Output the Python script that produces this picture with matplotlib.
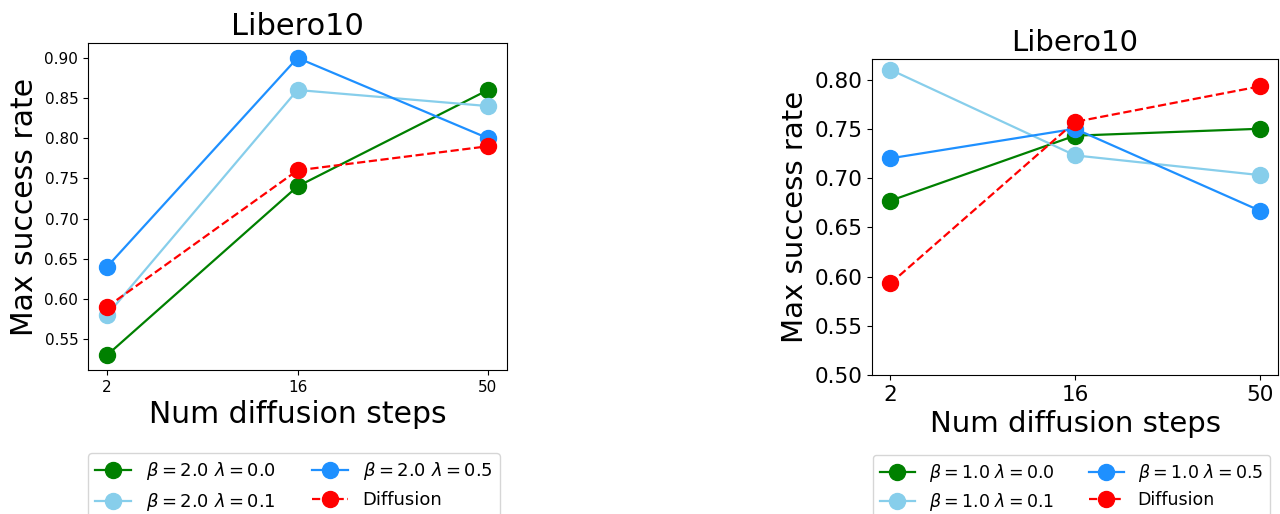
import matplotlib
matplotlib.use("Agg")
import matplotlib.pyplot as plt

steps = ["2", "16", "50"]

# left panel: beta = 2.0
left_b2_l00 = [0.53, 0.74, 0.86]
left_b2_l01 = [0.58, 0.86, 0.84]
left_b2_l05 = [0.64, 0.90, 0.80]
left_diffusion = [0.59, 0.76, 0.79]

# right panel: beta = 1.0
right_b1_l00 = [0.677, 0.743, 0.750]
right_b1_l01 = [0.810, 0.723, 0.703]
right_b1_l05 = [0.720, 0.750, 0.667]
right_diffusion = [0.593, 0.757, 0.793]

def draw_panel(ax, beta, series, tick_fs, label_fs, title_fs):
    x = range(len(steps))
    colors = ["green", "skyblue", "dodgerblue"]
    lams = ["0.0", "0.1", "0.5"]
    for vals, c, lam in zip(series[:3], colors, lams):
        ax.plot(x, vals, marker="o", color=c, markersize=11.5, linewidth=1.6,
                label=r"$\beta=%s\ \lambda=%s$" % (beta, lam))
    ax.plot(x, series[3], marker="o", color="red", linestyle="--", markersize=11.5,
            linewidth=1.6, label="Diffusion")
    ax.set_xticks(list(x))
    ax.set_xticklabels(steps)
    ax.tick_params(labelsize=tick_fs)
    ax.set_xlabel("Num diffusion steps", fontsize=label_fs)
    ax.set_ylabel("Max success rate", fontsize=label_fs)
    ax.set_title("Libero10", fontsize=title_fs)

fig = plt.figure(figsize=(12.8, 5.14), dpi=100)

ax1 = fig.add_axes([88/1280, 144/514, 419/1280, 327/514])
draw_panel(ax1, "2.0", [left_b2_l00, left_b2_l01, left_b2_l05, left_diffusion], 11, 21.5, 22)
ax1.legend(ncol=2, fontsize=13, loc="upper left", borderaxespad=0,
           bbox_to_anchor=(88/1280, 61/514), bbox_transform=fig.transFigure,
           columnspacing=2.0)

ax2 = fig.add_axes([872/1280, 139/514, 406/1280, 316/514])
draw_panel(ax2, "1.0", [right_b1_l00, right_b1_l01, right_b1_l05, right_diffusion], 15.5, 21, 21)
ax2.set_ylim(bottom=0.5)
ax2.legend(ncol=2, fontsize=12.5, loc="upper left", borderaxespad=0,
           bbox_to_anchor=(873/1280, 59/514), bbox_transform=fig.transFigure,
           columnspacing=2.0, labelspacing=0.4)

fig.savefig("out.png", dpi=100)
